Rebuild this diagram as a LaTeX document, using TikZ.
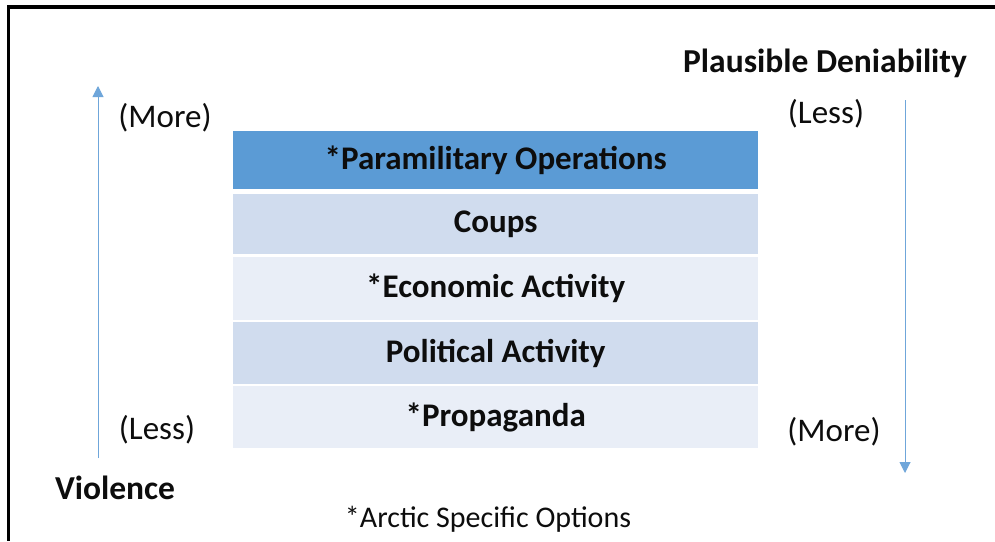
\documentclass[tikz,border=0pt]{standalone}
\usepackage{fontspec}
\setmainfont{Carlito}
\usetikzlibrary{arrows.meta}
\definecolor{dkblue}{HTML}{5B9BD5}
\definecolor{midrow}{HTML}{D0DCEE}
\definecolor{litrow}{HTML}{E9EEF7}
\definecolor{arrowblue}{HTML}{6FA6DA}
\definecolor{txt}{HTML}{0D0D0D}
\tikzset{
  rowbox/.style={minimum width=525pt, inner sep=0pt, anchor=north west, text=txt,
    font=\fontsize{33}{40}\selectfont\bfseries},
  rowtext/.style={raise=2pt},
  lbl/.style={inner sep=0pt, text=txt, font=\fontsize{33}{40}\selectfont},
  bold lbl/.style={lbl, font=\fontsize{33.5}{40}\selectfont\bfseries},
  axisarrow/.style={draw=arrowblue, line width=1pt, -{Triangle[length=11pt,width=11pt]}},
}
\newcommand{\rowtxt}[1]{\raisebox{2pt}{#1}}
\begin{document}
\begin{tikzpicture}[x=1pt,y=-1pt]
\useasboundingbox (0,0) rectangle (995,541);
\fill[white] (0,0) rectangle (995,541);
% frame
\fill[black] (7,5) rectangle (995,9);
\fill[black] (7,5) rectangle (10,541);
% rows
\node[rowbox, fill=dkblue, minimum height=58pt] (r1) at (233,131) {\rowtxt{*Paramilitary Operations}};
\node[rowbox, fill=midrow, minimum height=60pt] (r2) at (233,194) {\rowtxt{Coups}};
\node[rowbox, fill=litrow, minimum height=63pt] (r3) at (233,257) {\rowtxt{*Economic Activity}};
\node[rowbox, fill=midrow, minimum height=62pt] (r4) at (233,322) {\rowtxt{Political Activity}};
\node[rowbox, fill=litrow, minimum height=62pt] (r5) at (233,386) {\rowtxt{*Propaganda}};
% labels
\node[lbl] (lmore) at (165,118) {(More)};
\node[lbl] (lless) at (157,430) {(Less)};
\node[bold lbl] (viol) at (115,488) {Violence};
\node[bold lbl] (pd) at (825,63) {Plausible Deniability};
\node[lbl] (rless) at (826,114) {(Less)};
\node[lbl] (rmore) at (834,432) {(More)};
\node[lbl, font=\fontsize{30}{36}\selectfont] (note) at (488,519) {*Arctic Specific Options};
% arrows
\coordinate (la0) at (98,458);
\coordinate (la1) at (98,86);
\coordinate (ra0) at (905,100);
\coordinate (ra1) at (905,473);
\draw[axisarrow] (la0) -- (la1);
\draw[axisarrow] (ra0) -- (ra1);
\end{tikzpicture}
\end{document}
